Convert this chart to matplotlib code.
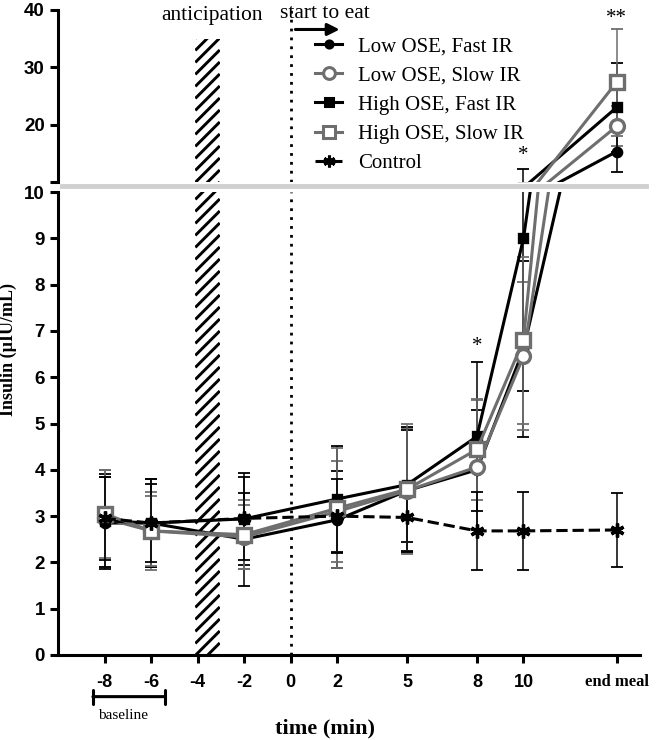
import matplotlib
matplotlib.use("Agg")
import matplotlib.pyplot as plt
from matplotlib.lines import Line2D
from matplotlib.patches import Rectangle
from matplotlib.collections import LineCollection
from matplotlib.transforms import IdentityTransform

# ------------------------------
# Data
# ------------------------------
times = [-8, -6, -2, 2, 5, 8, 10, 14]
tick_pos = [-8, -6, -4, -2, 0, 2, 5, 8, 10, 14]
tick_lab = ["-8", "-6", "-4", "-2", "0", "2", "5", "8", "10", "end meal"]

low_fast = [2.85, 2.85, 2.5, 2.92, 3.55, 4.0, 6.6, 15.3]
low_fast_err = [1.0, 0.95, 1.0, 1.05, 1.3, 1.3, 1.9, 3.6]

low_slow = [2.95, 2.68, 2.55, 3.1, 3.55, 4.06, 6.45, 19.7]
low_slow_err = [1.05, 0.85, 0.7, 1.1, 1.35, 1.45, 1.6, 3.5]

high_fast = [2.9, 2.85, 2.94, 3.37, 3.68, 4.72, 9.0, 23.0]
high_fast_err = [1.0, 0.95, 1.0, 1.15, 1.25, 1.6, 3.3, 7.8]

high_slow = [3.05, 2.68, 2.6, 3.17, 3.58, 4.44, 6.8, 27.4]
high_slow_err = [0.95, 0.75, 0.75, 1.3, 1.4, 1.1, 1.8, 9.3]

control = [2.95, 2.85, 2.95, 3.0, 2.97, 2.68, 2.68, 2.7]
control_err = [0.9, 0.85, 0.9, 0.8, 0.75, 0.85, 0.85, 0.8]

anticip_span = (-4.1, -3.05)   # minutes
anticip_top = 35

BLACK = "black"
GRAY = "#6e6e6e"
SERIF = "Liberation Serif"
SANS = "Liberation Sans"

fig = plt.figure(figsize=(6.56, 7.40), dpi=100)
ax_lo = fig.add_axes([0.0884, 0.1149, 0.887, 0.6256])
ax_hi = fig.add_axes([0.0884, 0.7541, 0.887, 0.2324])

series = [
    ("Low OSE, Fast IR", low_fast, low_fast_err, BLACK, "o", BLACK, 6, "-"),
    ("Low OSE, Slow IR", low_slow, low_slow_err, GRAY, "o", "white", 10, "-"),
    ("High OSE, Fast IR", high_fast, high_fast_err, BLACK, "s", BLACK, 6, "-"),
    ("High OSE, Slow IR", high_slow, high_slow_err, GRAY, "s", "white", 10, "-"),
    ("Control", control, control_err, BLACK, (6, 2, 0), BLACK, 10, "--"),
]


def stripes(ax, x0, x1, y0, y1, step=12.0):
    # diagonal hatch drawn in pixel space, clipped to the band
    (px0, py0), (px1, py1) = ax.transData.transform([(x0, y0), (x1, y1)])
    clip = Rectangle((x0, y0), x1 - x0, y1 - y0, fill=False, linewidth=0)
    ax.add_patch(clip)
    w = px1 - px0
    segs = []
    y = py0 - w
    while y < py1 + step:
        segs.append([(px0, y), (px1, y + w)])
        y += step
    lc = LineCollection(segs, colors=BLACK, linewidths=2.1,
                        transform=IdentityTransform(), zorder=1)
    ax.add_collection(lc, autolim=False)
    lc.set_clip_path(clip)


for ax in (ax_lo, ax_hi):
    for name, vals, err, col, mk, face, ms, ls in series:
        ax.errorbar(times, vals, yerr=err, fmt="none", ecolor=col,
                    elinewidth=1.1, capsize=4.6, capthick=1.3, zorder=2)
        ax.plot(times, vals, color=col, linestyle=ls, linewidth=2.2,
                marker=mk, markersize=ms, markerfacecolor=face,
                markeredgecolor=col, markeredgewidth=2.4, zorder=3)
    ax.set_xlim(-10, 15)
    ax.axvline(0, color=BLACK, linestyle=(0, (1, 2.2)), linewidth=2, zorder=1)
    for side in ("top", "right"):
        ax.spines[side].set_visible(False)
    ax.spines["left"].set_linewidth(2.2)
    ax.tick_params(axis="y", direction="out", width=2.2, length=6,
                   labelsize=13.5)

# lower panel
ax_lo.set_ylim(0, 10)
ax_lo.set_yticks(range(0, 11))
ax_lo.set_yticklabels([str(v) for v in range(0, 11)], fontfamily=SANS,
                      fontweight="bold", fontsize=13.5)
ax_lo.spines["bottom"].set_linewidth(2.2)
ax_lo.set_xticks(tick_pos)
ax_lo.set_xticklabels(tick_lab)
ax_lo.tick_params(axis="x", direction="out", width=2.2, length=6, pad=8)
for lab in ax_lo.get_xticklabels():
    if lab.get_text() == "end meal":
        lab.set_fontfamily(SERIF)
        lab.set_fontsize(12)
    else:
        lab.set_fontfamily(SANS)
        lab.set_fontsize(13)
    lab.set_fontweight("bold")
ax_lo.set_xlabel("time (min)", fontfamily=SERIF, fontweight="bold",
                 fontsize=16)
ax_lo.xaxis.set_label_coords(0.459, -0.138)
ax_lo.set_ylabel("Insulin (\u00b5IU/mL)", fontfamily=SERIF,
                 fontweight="bold", fontsize=13)
ax_lo.yaxis.set_label_coords(-0.07, 0.66)
ax_lo.text(8, 6.45, "*", ha="center", va="bottom", fontsize=15,
           fontfamily=SERIF)

# baseline bracket below the axis
ax_lo.annotate("", xy=(-8.5, -0.9), xytext=(-5.4, -0.9),
               xycoords="data", annotation_clip=False,
               arrowprops=dict(arrowstyle="|-|", mutation_scale=5,
                               linewidth=2.2, color=BLACK, shrinkA=0,
                               shrinkB=0))
ax_lo.text(-7.2, -1.3, "baseline", ha="center", va="center",
           fontfamily=SERIF, fontsize=11, clip_on=False)

# upper panel
ax_hi.set_ylim(10, 40)
ax_hi.set_yticks([10, 20, 30, 40])
ax_hi.set_yticklabels(["", "20", "30", "40"], fontfamily=SANS,
                      fontweight="bold", fontsize=13.5)
ax_hi.spines["bottom"].set_visible(False)
ax_hi.set_xticks([])
ax_hi.text(-3.4, 39.0, "anticipation", ha="center", va="center",
           fontfamily=SERIF, fontsize=15.5)
ax_hi.text(-0.45, 39.4, "start to eat", ha="left", va="center",
           fontfamily=SERIF, fontsize=15.5)
ax_hi.annotate("", xy=(2.1, 36.6), xytext=(0.2, 36.6),
               arrowprops=dict(arrowstyle="-|>", color=BLACK, linewidth=2.2,
                               mutation_scale=18, shrinkA=0, shrinkB=0))
ax_hi.text(10, 13.0, "*", ha="center", va="bottom", fontsize=15,
           fontfamily=SERIF)
ax_hi.text(14, 36.8, "**", ha="center", va="bottom", fontsize=15,
           fontfamily=SERIF)

# anticipation band, hatched across both panels
stripes(ax_lo, anticip_span[0], anticip_span[1], 0, 10)
stripes(ax_hi, anticip_span[0], anticip_span[1], 10, anticip_top)

# legend
handles = []
for name, vals, err, col, mk, face, ms, ls in series:
    handles.append(Line2D([], [], color=col, linestyle=ls, linewidth=2.2,
                          marker=mk, markersize=ms * 0.85,
                          markerfacecolor=face, markeredgecolor=col,
                          markeredgewidth=2.2, label=name))
ax_hi.legend(handles=handles, loc="upper left",
             bbox_to_anchor=(0.424, 0.905), frameon=False,
             prop={"family": SERIF, "size": 15}, handlelength=1.3,
             handletextpad=0.75, labelspacing=0.46, borderpad=0)

# grey axis break band
fig.add_artist(Line2D([0.094, 0.984], [0.7486, 0.7486], color="#d0d0d0",
                      linewidth=3.5, transform=fig.transFigure))

fig.savefig("out.png", dpi=100)
